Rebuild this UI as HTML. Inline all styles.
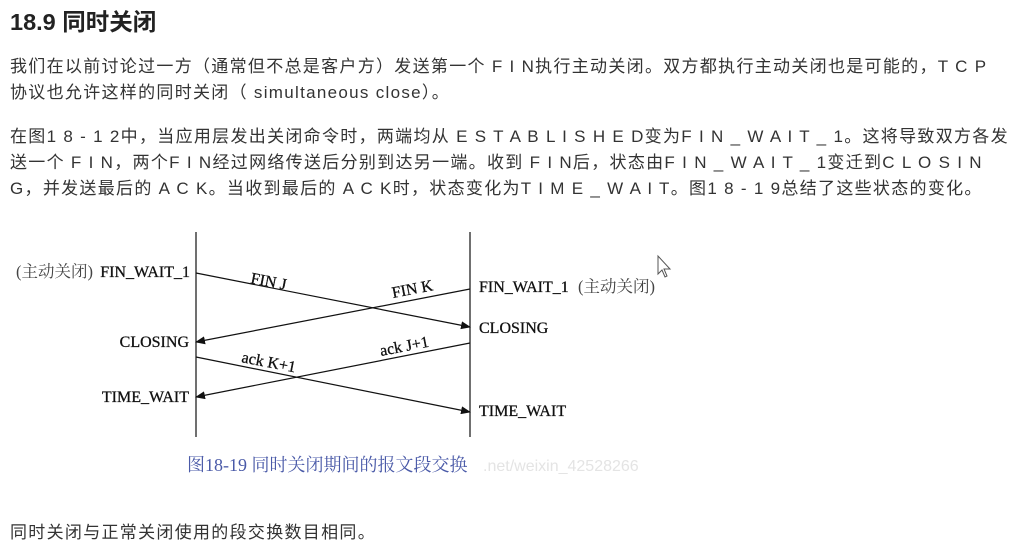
<!DOCTYPE html>
<html><head><meta charset="utf-8"><style>
body{margin:0;width:1010px;height:544px;background:#fff;overflow:hidden;position:relative;font-family:"Liberation Sans","Noto Sans CJK SC",sans-serif;color:#333}
.t{position:absolute;white-space:nowrap;font-size:17px;letter-spacing:1.3px}
h1{position:absolute;left:10px;top:3px;margin:0;font-size:23.5px;font-weight:bold;color:#222}
</style></head><body>
<h1>18.9 同时关闭</h1>
<div class="t" style="left:10px;top:52px">我们在以前讨论过一方（通常但不总是客户方）发送第一个 F I N执行主动关闭。双方都执行主动关闭也是可能的，T C P</div>
<div class="t" style="left:10px;top:78px">协议也允许这样的同时关闭（ simultaneous close）。</div>
<div class="t" style="left:10px;top:122px">在图1 8 - 1 2中，当应用层发出关闭命令时，两端均从 E S T A B L I S H E D变为F I N _ W A I T _ 1。这将导致双方各发</div>
<div class="t" style="left:10px;top:148px">送一个 F I N，两个F I N经过网络传送后分别到达另一端。收到 F I N后，状态由F I N _ W A I T _ 1变迁到C L O S I N</div>
<div class="t" style="left:10px;top:174px">G，并发送最后的 A C K。当收到最后的 A C K时，状态变化为T I M E _ W A I T。图1 8 - 1 9总结了这些状态的变化。</div>
<svg style="position:absolute;left:0;top:0" width="1010" height="544">
<defs><marker id="a" markerWidth="10" markerHeight="8" refX="9" refY="4" orient="auto" markerUnits="userSpaceOnUse"><path d="M0,0L10,4L0,8z" fill="#111"/></marker></defs>
<g stroke="#111" stroke-width="1.2">
<line x1="196" y1="232" x2="196" y2="437"/><line x1="470" y1="232" x2="470" y2="437"/>
<line x1="196" y1="273" x2="470" y2="327" marker-end="url(#a)"/>
<line x1="470" y1="289" x2="196" y2="342" marker-end="url(#a)"/>
<line x1="196" y1="357" x2="470" y2="412" marker-end="url(#a)"/>
<line x1="470" y1="343" x2="196" y2="397" marker-end="url(#a)"/>
</g>
<g font-family="Liberation Serif,'Noto Serif CJK SC',serif" font-size="16" fill="#111" stroke="#111" stroke-width="0.3">
<text x="16" y="277" fill="#444" stroke="none" font-size="16.5">(主动关闭)</text><text x="190" y="277" text-anchor="end">FIN_WAIT_1</text>
<text x="250" y="283" transform="rotate(11 250 283)">FIN J</text>
<text x="393" y="298" transform="rotate(-11 393 298)">FIN K</text>
<text x="479" y="292">FIN_WAIT_1</text><text x="578" y="292" fill="#444" stroke="none" font-size="16.5">(主动关闭)</text>
<text x="479" y="333">CLOSING</text>
<text x="189" y="347" text-anchor="end">CLOSING</text>
<text x="241" y="362" transform="rotate(11 241 362)">ack K+1</text>
<text x="381" y="356" transform="rotate(-11 381 356)">ack J+1</text>
<text x="189" y="402" text-anchor="end">TIME_WAIT</text>
<text x="479" y="416">TIME_WAIT</text>
<text x="187" y="471" fill="#4a5aa8" stroke="none" font-size="18">图18-19  同时关闭期间的报文段交换</text>
<text x="483" y="471" fill="#e4e4e4" stroke="none" font-family="Liberation Sans,sans-serif" font-size="16">.net/weixin_42528266</text>
</g>
<path d="M658,256v18l4-4l3,7l2-1l-3-7h6z" fill="#fff" stroke="#555"/>
</svg>
<div class="t" style="left:10px;top:518px">同时关闭与正常关闭使用的段交换数目相同。</div>
</body></html>
